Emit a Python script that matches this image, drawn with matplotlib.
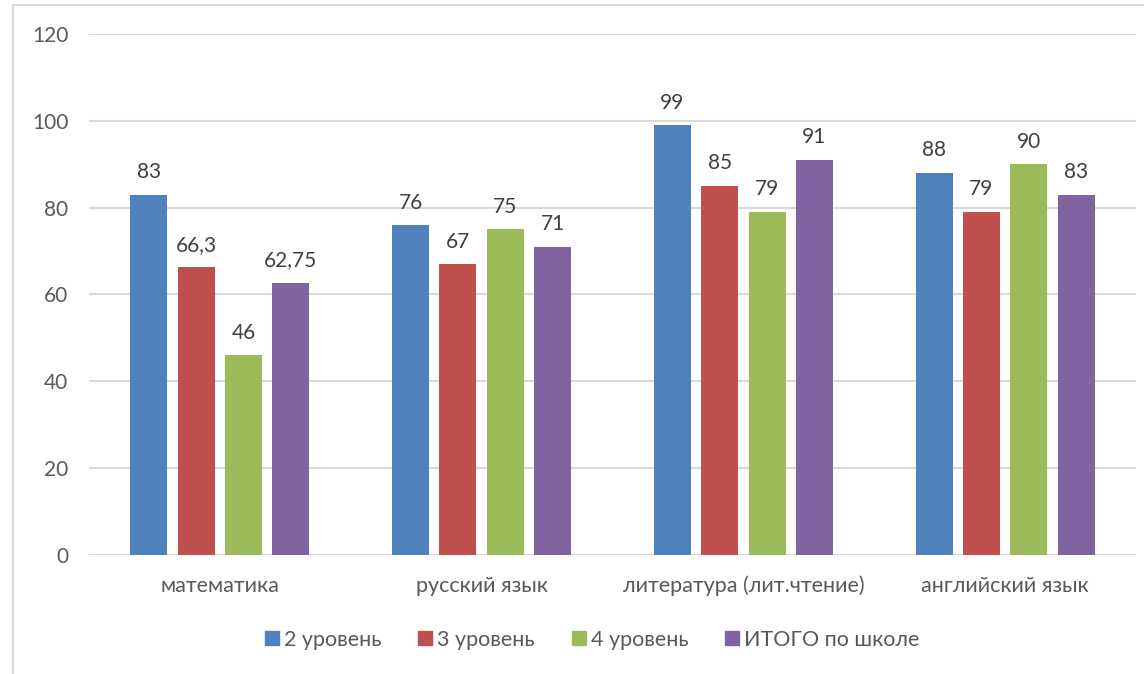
import numpy as np
import matplotlib.pyplot as plt
from matplotlib.lines import Line2D

plt.rcParams['font.family'] = ['Lato', 'DejaVu Sans']

# %% data
categories = ['математика', 'русский язык', 'литература (лит.чтение)', 'английский язык']
series_names = ['2 уровень', '3 уровень', '4 уровень', 'ИТОГО по школе']
level2 = [83, 76, 99, 88]
level3 = [66.3, 67, 85, 79]
level4 = [46, 75, 79, 90]
total = [62.75, 71, 91, 83]
labels2 = ['83', '76', '99', '88']
labels3 = ['66,3', '67', '85', '79']
labels4 = ['46', '75', '79', '90']
labels_total = ['62,75', '71', '91', '83']
y_ticks = [0, 20, 40, 60, 80, 100, 120]

colors = ['#4F81BD', '#C0504D', '#9BBB59', '#8064A2']
series = [level2, level3, level4, total]
series_labels = [labels2, labels3, labels4, labels_total]

# %% figure
fig = plt.figure(figsize=(11.44, 6.74), dpi=100)
ax = fig.add_axes([0.0778, 0.1766, 0.9152, 0.773])

x = np.arange(len(categories))
bar_w = 0.141
step = 0.181
offsets = (np.arange(4) - 1.5) * step

for k in range(4):
    bars = ax.bar(x + offsets[k], series[k], bar_w, color=colors[k], zorder=3)
    for b, lab in zip(bars, series_labels[k]):
        ax.annotate(lab, (b.get_x() + b.get_width() / 2, b.get_height()),
                    xytext=(0, 9), textcoords='offset points',
                    ha='center', va='bottom', fontsize=15, color='#404040')

ax.set_xlim(-0.5, len(categories) - 0.5)
ax.set_ylim(0, 120)
ax.set_yticks(y_ticks)
ax.set_yticklabels([str(t) for t in y_ticks])
ax.set_xticks(x)
ax.set_xticklabels(categories)
ax.tick_params(axis='both', length=0, labelsize=15, labelcolor='#595959')
ax.tick_params(axis='x', labelsize=15.5, pad=15)
ax.tick_params(axis='y', pad=15)
ax.grid(axis='y', color='#D9D9D9', linewidth=1.5, zorder=0)
for s in ax.spines.values():
    s.set_visible(False)

# legend
handles = [Line2D([], [], marker='s', linestyle='none', markersize=10,
                  markerfacecolor=c, markeredgecolor=c) for c in colors]
fig.legend(handles, series_names, loc='center', bbox_to_anchor=(0.516, 0.051),
           ncol=4, frameon=False, fontsize=15.5, labelcolor='#595959',
           handletextpad=0.05, columnspacing=1.55, handlelength=1.0)

# chart border (left and top)
fig.add_artist(Line2D([0.0117, 0.0117], [0, 0.9926], color='#D9D9D9', linewidth=1.5,
                      transform=fig.transFigure))
fig.add_artist(Line2D([0.0117, 1], [0.9926, 0.9926], color='#D9D9D9', linewidth=1.5,
                      transform=fig.transFigure))

fig.savefig('out.png', dpi=100)
